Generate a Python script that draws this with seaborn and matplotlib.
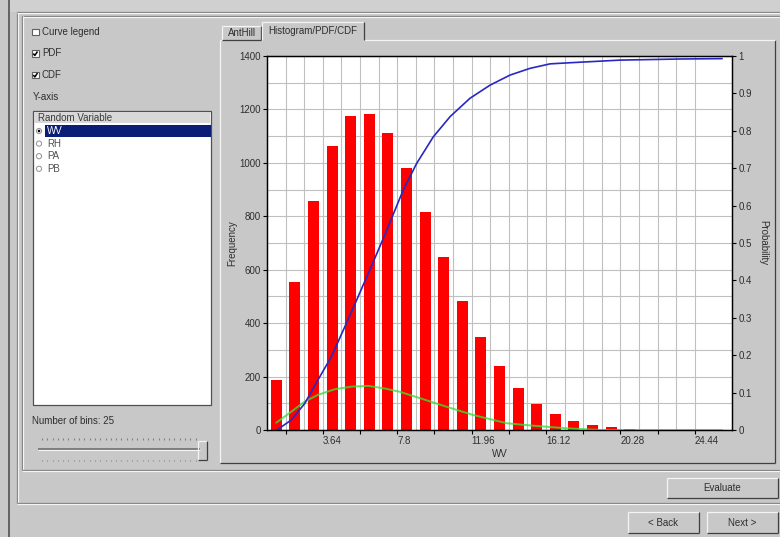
import matplotlib
matplotlib.use("Agg")
import matplotlib.pyplot as plt
import numpy as np
import seaborn as sns
from matplotlib.patches import Rectangle, Circle

# ---------------- data ----------------
bin_centers = [1.04, 2.08, 3.12, 4.16, 5.20, 6.24, 7.28, 8.32, 9.36, 10.40,
               11.44, 12.48, 13.52, 14.56, 15.60, 16.64, 17.68, 18.72, 19.76, 20.80,
               21.84, 22.88, 23.92, 24.96, 26.00]
counts = [188, 554, 856, 1063, 1174, 1182, 1111, 979, 816, 647,
          484, 348, 240, 159, 98, 59, 32, 19, 10, 3,
          1, 1, 0, 0, 0]

cdf_x = [1.08, 1.23, 1.88, 2.63, 3.37, 4.12, 4.87, 5.61, 6.35, 7.10, 8.14, 8.89,
         9.82, 10.76, 11.87, 12.99, 14.11, 15.23, 16.35, 17.47, 20.26, 23.62, 25.97]
cdf_y = [0.0, 0.005, 0.027, 0.071, 0.134, 0.196, 0.276, 0.356, 0.437, 0.521, 0.642, 0.713,
         0.784, 0.838, 0.887, 0.922, 0.949, 0.967, 0.979, 0.982, 0.989, 0.992, 0.993]

pdf_x = [1.04, 1.88, 2.63, 3.37, 4.31, 5.24, 6.17, 7.10, 7.96, 9.08, 10.57, 12.06,
         13.93, 15.40, 17.28, 19.14, 25.97]
pdf_y = [0.0195, 0.049, 0.076, 0.094, 0.109, 0.116, 0.118, 0.111, 0.102, 0.085, 0.062, 0.040,
         0.018, 0.0115, 0.0045, 0.0, 0.0]

x_tick_labels = ["3.64", "7.8", "11.96", "16.12", "20.28", "24.44"]
freq_ticks = [0, 200, 400, 600, 800, 1000, 1200, 1400]
prob_ticks = [0, 0.1, 0.2, 0.3, 0.4, 0.5, 0.6, 0.7, 0.8, 0.9, 1]
prob_tick_labels = ["0", "0.1", "0.2", "0.3", "0.4", "0.5", "0.6", "0.7", "0.8", "0.9", "1"]

variables = ["WV", "RH", "PA", "PB"]
n_bins_text = "Number of bins: 25"

# ---------------- style ----------------
sns.set_theme(style="white")
plt.rcParams['font.family'] = ['Liberation Sans', 'DejaVu Sans']
FS = 7
TXT = '#2e2e2e'
GRAY = '#c8c8c8'
DARK = '#7a7a7a'
LIGHT = '#f4f4f4'

fig = plt.figure(figsize=(7.8, 5.37), dpi=100, facecolor=GRAY)

# ---------------- GUI background (pixel coords) ----------------
bg = fig.add_axes([0, 0, 1, 1], zorder=-5)
bg.set_xlim(0, 780)
bg.set_ylim(537, 0)
bg.axis('off')
bg.add_patch(Rectangle((9, 0), 771, 12, facecolor='#d0d0d0', edgecolor='none'))

def line(xs, ys, c, lw=0.9):
    bg.plot(xs, ys, color=c, lw=lw, solid_capstyle='butt')

def etched_h(y, x0, x1):
    line([x0, x1], [y, y], DARK)
    line([x0, x1], [y + 1, y + 1], LIGHT)

def etched_v(x, y0, y1):
    line([x, x], [y0, y1], DARK)
    line([x + 1, x + 1], [y0, y1], LIGHT)

def raised(x0, y0, x1, y1, fill=GRAY, top=True):
    bg.add_patch(Rectangle((x0, y0), x1 - x0, y1 - y0, facecolor=fill, edgecolor='none'))
    if top:
        line([x0, x1], [y0, y0], LIGHT)
    line([x0, x0], [y0, y1], LIGHT)
    line([x1, x1], [y0, y1], '#404040')
    line([x0, x1], [y1, y1], '#404040')

def txt(x, y, s, **kw):
    d = dict(fontsize=FS, color=TXT, va='center', ha='left')
    d.update(kw)
    bg.text(x, y, s, **d)

# outer window edges
line([8.5, 8.5], [0, 537], '#505050', lw=1.2)
etched_v(17, 12, 503)
etched_h(503, 17, 780)
etched_h(12, 17, 780)
# group box
etched_h(16, 22, 780)
etched_v(22, 16, 470)
etched_h(470, 22, 780)

# checkboxes
for i, (label, checked) in enumerate([("Curve legend", False), ("PDF", True), ("CDF", True)]):
    yc = 32 + i * 21.5
    bg.add_patch(Rectangle((32, yc - 3.5), 6.5, 6.5, facecolor='white', edgecolor='#606060', lw=0.8))
    if checked:
        line([33.3, 34.8, 37.5], [yc, yc + 2, yc - 2], '#000000', lw=1.1)
    txt(42, yc, label)
txt(33, 97, "Y-axis")

# list box
bg.add_patch(Rectangle((33, 111), 178, 294, facecolor='white', edgecolor='#505050', lw=0.9))
bg.add_patch(Rectangle((34, 112), 176, 11, facecolor='#d8d8d8', edgecolor='none'))
txt(38, 118, "Random Variable", color='#3a3a3a')
bg.add_patch(Rectangle((45, 125), 166, 11.5, facecolor='#0a1e78', edgecolor='none'))
for i, v in enumerate(variables):
    yc = 131 + i * 12.6
    bg.add_patch(Circle((39, yc), 2.6, facecolor='white', edgecolor='#909090', lw=0.7))
    if i == 0:
        bg.add_patch(Circle((39, yc), 1.3, facecolor='black', edgecolor='none'))
    txt(47, yc, v, color='white' if i == 0 else '#505050')

# bins slider
txt(32, 421, n_bins_text)
for yy in (439, 460.5):
    xs = np.arange(42, 200, 5.3)
    bg.vlines(xs, yy - 0.8, yy + 0.8, color='#808080', lw=0.8)
line([38, 200], [449, 449], '#707070', lw=1.2)
line([38, 200], [450.2, 450.2], LIGHT, lw=0.8)
raised(198, 441, 207, 460)

# chart tab panel
raised(220, 40, 775, 463, top=False)
line([364, 775], [40, 40], LIGHT)
line([220, 222], [40, 40], LIGHT)
# tabs
raised(222, 26, 261, 40)
txt(241.5, 33, "AntHill", ha='center')
bg.add_patch(Rectangle((262, 22), 102, 19, facecolor=GRAY, edgecolor='none'))
line([262, 364], [22, 22], LIGHT)
line([262, 262], [22, 40], LIGHT)
line([364, 364], [22, 40], '#404040')
txt(313, 31, "Histogram/PDF/CDF", ha='center')

# buttons
raised(667, 478, 778, 498)
txt(722.5, 488, "Evaluate", ha='center')
raised(628, 512, 699, 533)
txt(663.5, 522.5, "< Back", ha='center')
raised(707, 512, 778, 533)
txt(742.5, 522.5, "Next >", ha='center')

# ---------------- chart ----------------
ax = fig.add_axes([267 / 780, 107 / 537, 465 / 780, 374 / 537])
ax.set_facecolor('white')

half = (bin_centers[1] - bin_centers[0]) / 2
edges = [c - half for c in bin_centers] + [bin_centers[-1] + half]

sns.histplot(x=bin_centers, weights=counts, bins=edges, shrink=0.6,
             color='#ff0000', alpha=1, linewidth=0, edgecolor='none', ax=ax)

def fmt(v):
    return f"{v:.2f}".rstrip('0').rstrip('.')

ax.set_xlim(edges[0], edges[-1])
ax.set_ylim(0, 1400)
major = edges[1::2][:-1]
ax.set_xticks(major)
ax.set_xticklabels([fmt(m) if fmt(m) in x_tick_labels else "" for m in major], ha='left')
ax.set_xticks(edges[2::2][:-1], minor=True)
ax.set_yticks(freq_ticks)
ax.set_yticklabels([str(t) for t in freq_ticks])
ax.set_yticks([t + 100 for t in freq_ticks[:-1]], minor=True)
ax.set_axisbelow(True)
ax.grid(True, which='both', color='#c0c0c0', lw=0.8)
ax.tick_params(axis='both', which='major', direction='out', length=3, width=0.8,
               color='black', labelsize=FS, labelcolor=TXT, pad=1.5, bottom=True, left=True)
ax.tick_params(axis='both', which='minor', length=0)
for s in ax.spines.values():
    s.set_color('black')
    s.set_linewidth(0.9)
ax.set_xlabel("WV", fontsize=FS, color=TXT)
ax.xaxis.set_label_coords(0.5, -0.051)
ax.set_ylabel("Frequency", fontsize=FS, color=TXT)
ax.yaxis.set_label_coords(-0.0645, 0.5)

ax2 = ax.twinx()
sns.lineplot(x=pdf_x, y=pdf_y, ax=ax2, color='#38e038', alpha=0.8, linewidth=1.4)
sns.lineplot(x=cdf_x, y=cdf_y, ax=ax2, color='#2828c0', linewidth=1.2)
ax2.set_ylim(0, 1)
ax2.set_xlim(edges[0], edges[-1])
ax2.set_yticks(prob_ticks)
ax2.set_yticklabels(prob_tick_labels)
ax2.tick_params(axis='y', direction='out', length=3, width=0.8, color='black',
                labelsize=FS, labelcolor=TXT, pad=1.5, right=True)
ax2.grid(False)
ax2.set_ylabel("Probability", fontsize=FS, color=TXT, rotation=270, va='center')
ax2.yaxis.set_label_coords(1.068, 0.5)
for s in ax2.spines.values():
    s.set_color('black')
    s.set_linewidth(0.9)

fig.savefig("out.png", dpi=100, facecolor=GRAY)
